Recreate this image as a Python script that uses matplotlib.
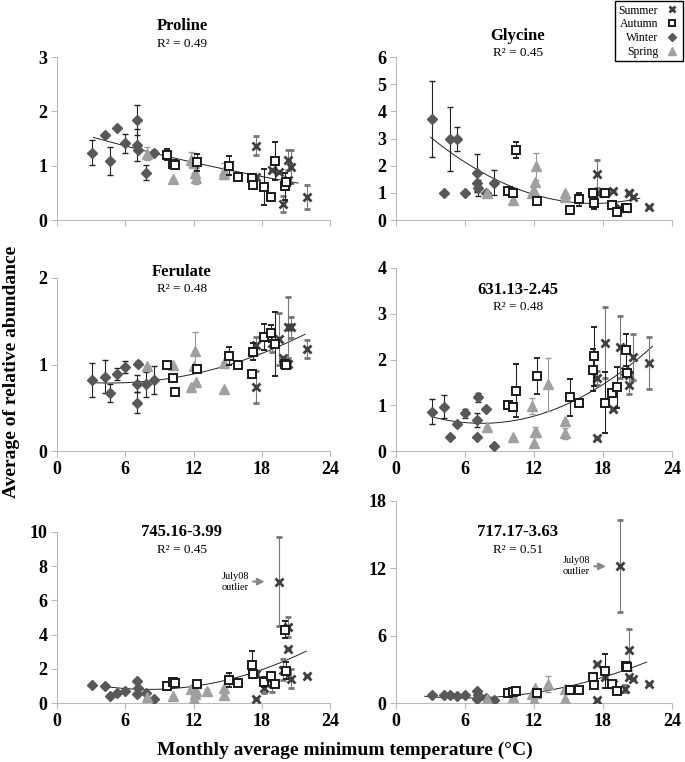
import numpy as np
import matplotlib.pyplot as plt
from matplotlib.lines import Line2D

plt.rcParams['font.family'] = ['Liberation Serif', 'DejaVu Serif']

nan = np.nan

# sampling months: monthly average minimum temperature (deg C), per season
winter_x = [3.1, 4.2, 4.7, 5.3, 6.0, 7.0, 7.0, 7.1, 7.8, 8.5]
spring_x = [7.9, 10.2, 11.8, 12.0, 12.1, 12.2, 13.2, 14.7, 14.7]
autumn_x = [9.7, 10.2, 10.4, 12.3, 15.1, 15.9, 17.1, 17.2, 18.2, 18.8, 19.2, 20.0, 20.1]
summer_x = [17.5, 17.5, 18.2, 18.9, 19.5, 19.9, 20.3, 20.3, 20.6, 22.0]

# Proline
proline_w = [1.24, 1.57, 1.08, 1.70, 1.41, 1.84, 1.38, 1.29, 0.87, 1.24]
proline_w_err = [0.23, 0, 0.26, 0, 0.17, 0.27, 0.30, 0, 0.14, 0.05]
proline_sp = [1.22, 0.76, 1.11, 1.05, 0.86, 0.77, nan, 0.90, 0.85]
proline_sp_err = [0.12, 0, 0.14, 0.18, 0, 0.10, 0, 0.15, 0]
proline_a = [1.20, 1.03, 1.02, 1.06, 1.00, 0.80, 0.77, 0.65, 0.60, 0.43, 1.09, 0.62, 0.70]
proline_a_err = [0.10, 0, 0, 0.15, 0.17, 0, 0, 0, 0.33, 0, 0.35, 0.25, 0]
proline_su = [1.37, 0.80, nan, 0.92, 0.89, 0.29, 1.10, 0.74, 0.98, 0.42]
proline_su_err = [0.18, 0, 0, 0, 0, 0.15, 0.18, 0, 0.30, 0.22]

# Glycine
glycine_w = [3.71, 0.98, 2.98, 2.98, 0.98, 1.72, 1.38, 1.19, 0.98, 1.38]
glycine_w_err = [1.40, 0, 1.18, 0.43, 0, 0.70, 0.30, 0.30, 0, 0.45]
glycine_sp = [0.98, 0.74, 1.00, 1.05, 1.41, 1.97, nan, 0.98, 0.86]
glycine_sp_err = [0, 0, 0, 0, 0, 0.50, 0, 0, 0]
glycine_a = [1.05, 1.00, 2.58, 0.70, 0.37, 0.76, 1.00, 0.64, 1.00, 0.55, 0.28, 0.43, 0.45]
glycine_a_err = [0, 0, 0.30, 0, 0, 0.25, 0, 0.25, 0, 0, 0, 0, 0]
glycine_su = [1.68, 1.00, 1.00, 1.07, 0.45, 0.43, 1.00, 0.98, 0.84, 0.49]
glycine_su_err = [0.52, 0, 0, 0, 0, 0, 0, 0, 0, 0]

# Ferulate
ferulate_w = [0.82, 0.86, 0.67, 0.89, 0.97, 0.78, 0.56, 1.01, 0.77, 0.82]
ferulate_w_err = [0.20, 0.19, 0.10, 0.07, 0.07, 0.10, 0.12, 0.03, 0.14, 0.16]
ferulate_sp = [0.98, 0.99, 0.74, 0.98, 1.16, 0.80, nan, 0.72, 1.02]
ferulate_sp_err = [0, 0, 0, 0, 0.21, 0, 0, 0, 0]
ferulate_a = [0.99, 0.84, 0.68, 0.95, 1.10, 0.99, 0.89, 1.15, 1.32, 1.36, 1.24, 1.01, 0.99]
ferulate_a_err = [0, 0, 0, 0, 0.10, 0, 0, 0.10, 0.15, 0.10, 0.37, 0, 0]
ferulate_su = [0.74, 1.22, nan, 1.25, 1.30, 1.07, 1.43, 1.01, 1.43, 1.18]
ferulate_su_err = [0.19, 0.10, 0, 0.10, 0.30, 0, 0.35, 0, 0.12, 0.10]

# 631.13-2.45
m631_w = [0.86, 0.97, 0.31, 0.60, 0.82, 0.68, 0.30, 1.17, 0.91, 0.10]
m631_w_err = [0.27, 0.25, 0, 0, 0.10, 0.15, 0, 0.10, 0, 0]
m631_sp = [0.53, 0.30, 0.98, 0.18, 0.42, 0.42, 1.46, 0.66, 0.39]
m631_sp_err = [0, 0, 0.17, 0, 0.10, 0, 0.58, 0, 0.12]
m631_a = [1.00, 0.97, 1.32, 1.64, 1.17, 1.05, 1.77, 2.07, 1.06, 1.26, 1.39, 2.20, 1.70]
m631_a_err = [0, 0, 0.58, 0.40, 0.40, 0, 0.45, 0.65, 0.67, 0, 0.45, 0.35, 0]
m631_su = [0.28, 1.59, 2.37, 0.92, 2.27, 1.75, 1.66, 1.44, 2.05, 1.93]
m631_su_err = [0, 0.15, 0.77, 0, 0.68, 0, 0, 0.20, 0.50, 0.57]

# 745.16-3.99
m745_w = [1.03, 0.97, 0.39, 0.58, 0.70, 1.27, 0.51, 0.90, 0.58, 0.25]
m745_w_err = [0, 0, 0, 0, 0, 0, 0, 0, 0, 0]
m745_sp = [0.35, 0.40, 0.80, 0.25, 0.55, 0.70, 0.70, 0.90, 0.45]
m745_sp_err = [0, 0, 0, 0, 0, 0, 0.10, 0, 0]
m745_a = [0.99, 1.20, 1.17, 1.13, 1.33, 1.17, 2.24, 1.68, 1.23, 1.56, 1.09, 4.29, 1.90]
m745_a_err = [0, 0, 0, 0, 0.40, 0, 0.80, 0, 0.30, 0, 0, 0.50, 0.50]
m745_su = [0.25, 1.68, 0.90, 1.17, 7.10, 1.95, 3.18, 4.44, 1.42, 1.56]
m745_su_err = [0, 0, 0.30, 0.50, 2.60, 0.60, 0, 0.60, 0.55, 0]

# 717.17-3.63
m717_w = [0.74, 0.74, 0.68, 0.65, 0.71, 1.07, 0.39, 0.68, 0.48, 0.24]
m717_w_err = [0, 0, 0, 0, 0, 0, 0, 0, 0, 0]
m717_sp = [0.40, 0.53, 0.83, 0.24, 1.37, 0.90, 1.72, 1.28, 0.39]
m717_sp_err = [0, 0, 0, 0, 0, 0, 0.70, 0, 0]
m717_a = [0.92, 0.98, 1.07, 0.92, 1.13, 1.13, 2.32, 1.63, 2.85, 1.72, 1.07, 3.27, 3.20]
m717_a_err = [0, 0, 0, 0, 0, 0, 0, 0, 1.50, 0, 0, 0, 0]
m717_su = [0.30, 3.50, 2.30, 1.70, 12.18, 1.28, 4.75, 2.30, 2.17, 1.66]
m717_su_err = [0, 0, 0, 0, 4.10, 0.30, 1.80, 0, 0, 0]

titles = ['Proline', 'Glycine', 'Ferulate', '631.13-2.45', '745.16-3.99', '717.17-3.63']
r2 = ['0.49', '0.45', '0.48', '0.48', '0.45', '0.51']
ymax = [3, 6, 2, 4, 10, 18]
ystep = [1, 1, 1, 1, 2, 6]
# polynomial trendlines (a + b*x + c*x^2) as shown in the figure, with their x span
trend_coef = [(1.711, -0.0616, 0.000611), (4.190, -0.4162, 0.0121), (0.827, -0.01772, 0.001913),
              (1.029, -0.1138, 0.007636), (1.554, -0.1880, 0.01166), (0.904, -0.1537, 0.01283)]
trend_range = [(3.2, 21.2), (3.0, 21.2), (3.2, 21.8), (3.1, 22.3), (4.2, 21.9), (2.5, 21.8)]
outlier = [False, False, False, False, True, True]   # July08 summer point flagged

panel_data = [
    (proline_w, proline_w_err, proline_sp, proline_sp_err, proline_a, proline_a_err, proline_su, proline_su_err),
    (glycine_w, glycine_w_err, glycine_sp, glycine_sp_err, glycine_a, glycine_a_err, glycine_su, glycine_su_err),
    (ferulate_w, ferulate_w_err, ferulate_sp, ferulate_sp_err, ferulate_a, ferulate_a_err, ferulate_su, ferulate_su_err),
    (m631_w, m631_w_err, m631_sp, m631_sp_err, m631_a, m631_a_err, m631_su, m631_su_err),
    (m745_w, m745_w_err, m745_sp, m745_sp_err, m745_a, m745_a_err, m745_su, m745_su_err),
    (m717_w, m717_w_err, m717_sp, m717_sp_err, m717_a, m717_a_err, m717_su, m717_su_err),
]

# axes boxes in pixels (left, right, top, bottom)
W, H = 685, 762
boxes = [(57, 330, 57, 220), (396, 672, 57, 220),
         (57, 330, 278, 451), (396, 672, 268, 451),
         (57, 330, 532, 703), (396, 672, 501, 703)]
title_pos = [(182, 26, 44), (518, 36, 53), (182, 272, 289), (518, 290, 307), (182, 532, 550), (518, 532, 550)]

fig = plt.figure(figsize=(6.85, 7.62), dpi=100)

win_style = dict(marker='D', ms=5.3, color='#585858', ls='none')
spr_style = dict(marker='^', ms=7.5, color='#a0a0a0', ls='none')
aut_style = dict(marker='s', ms=5.3, mfc='white', mec='#1a1a1a', mew=1.4, ls='none')
sum_style = dict(marker='x', ms=5.5, mec='#404040', mew=2.0, ls='none')

for i in range(6):
    l, r, t, b = boxes[i]
    ax = fig.add_axes([l / W, 1 - b / H, (r - l) / W, (b - t) / H])
    w, we, sp, spe, a, ae, su, sue = panel_data[i]

    ax.errorbar(winter_x, w, yerr=we, ecolor='#222222', elinewidth=0.8, capsize=2.5, zorder=3, **win_style)
    ax.errorbar(spring_x, sp, yerr=spe, ecolor='#999999', elinewidth=0.8, capsize=2.5, zorder=3, **spr_style)
    ax.errorbar(summer_x, su, yerr=sue, ecolor='#777777', elinewidth=0.8, capsize=2.5, zorder=4, **sum_style)
    ax.errorbar(autumn_x, a, yerr=ae, ecolor='#222222', elinewidth=0.8, capsize=2.5, zorder=5, **aut_style)

    c0, c1, c2 = trend_coef[i]
    xt = np.linspace(trend_range[i][0], trend_range[i][1], 100)
    ax.plot(xt, c0 + c1 * xt + c2 * xt ** 2, color='#222222', lw=0.7, zorder=2)

    ax.set_xlim(0, 24)
    ax.set_ylim(0, ymax[i])
    ax.set_xticks(np.arange(0, 25, 6))
    ax.set_yticks(np.arange(0, ymax[i] + 0.1, ystep[i]))
    for s in ['top', 'right']:
        ax.spines[s].set_visible(False)
    for s in ['left', 'bottom']:
        ax.spines[s].set_color('#bbbbbb')
        ax.spines[s].set_linewidth(0.8)
    ax.tick_params(color='#bbbbbb', length=4, width=0.8, direction='out', labelsize=13, pad=3)
    for lab in ax.get_yticklabels() + ax.get_xticklabels():
        lab.set_fontweight('bold')
    if i < 2:
        ax.set_xticklabels([])

    tx, ty1, ty2 = title_pos[i]
    fig.text(tx / W, 1 - ty1 / H, titles[i], ha='center', va='center', fontsize=12, fontweight='bold')
    fig.text(tx / W, 1 - ty2 / H, 'R² = ' + r2[i], ha='center', va='center', fontsize=9.5)

    if outlier[i]:
        yo = max(su)
        ax.annotate('', xy=(18.5, yo), xytext=(17.0, yo),
                    arrowprops=dict(arrowstyle='-|>', color='#888888', lw=1.5, mutation_scale=10))
        ax.text(15.7, yo, 'July08\noutlier', ha='center', va='center', fontsize=7.5, linespacing=1.3)

fig.text(12 / W, 1 - 372 / H, 'Average of relative abundance', rotation=90, ha='center', va='center',
         fontsize=14, fontweight='bold')
fig.text(345 / W, 1 - 750 / H, 'Monthly average minimum temperature (°C)', ha='center', va='center',
         fontsize=14, fontweight='bold')

handles = [Line2D([], [], **sum_style), Line2D([], [], **aut_style),
           Line2D([], [], **win_style), Line2D([], [], **spr_style)]
leg = fig.legend(handles, ['Summer', 'Autumn', 'Winter', 'Spring'], loc='upper right',
                 bbox_to_anchor=(683 / W, 1 - 1 / H), markerfirst=False, fontsize=8.5,
                 fancybox=False, edgecolor='black', framealpha=1, borderpad=0.3, markerscale=0.85,
                 labelspacing=0.15, handlelength=1.2, handletextpad=0.6, borderaxespad=0)
leg.get_frame().set_linewidth(1.0)

fig.savefig('out.png', dpi=100)
